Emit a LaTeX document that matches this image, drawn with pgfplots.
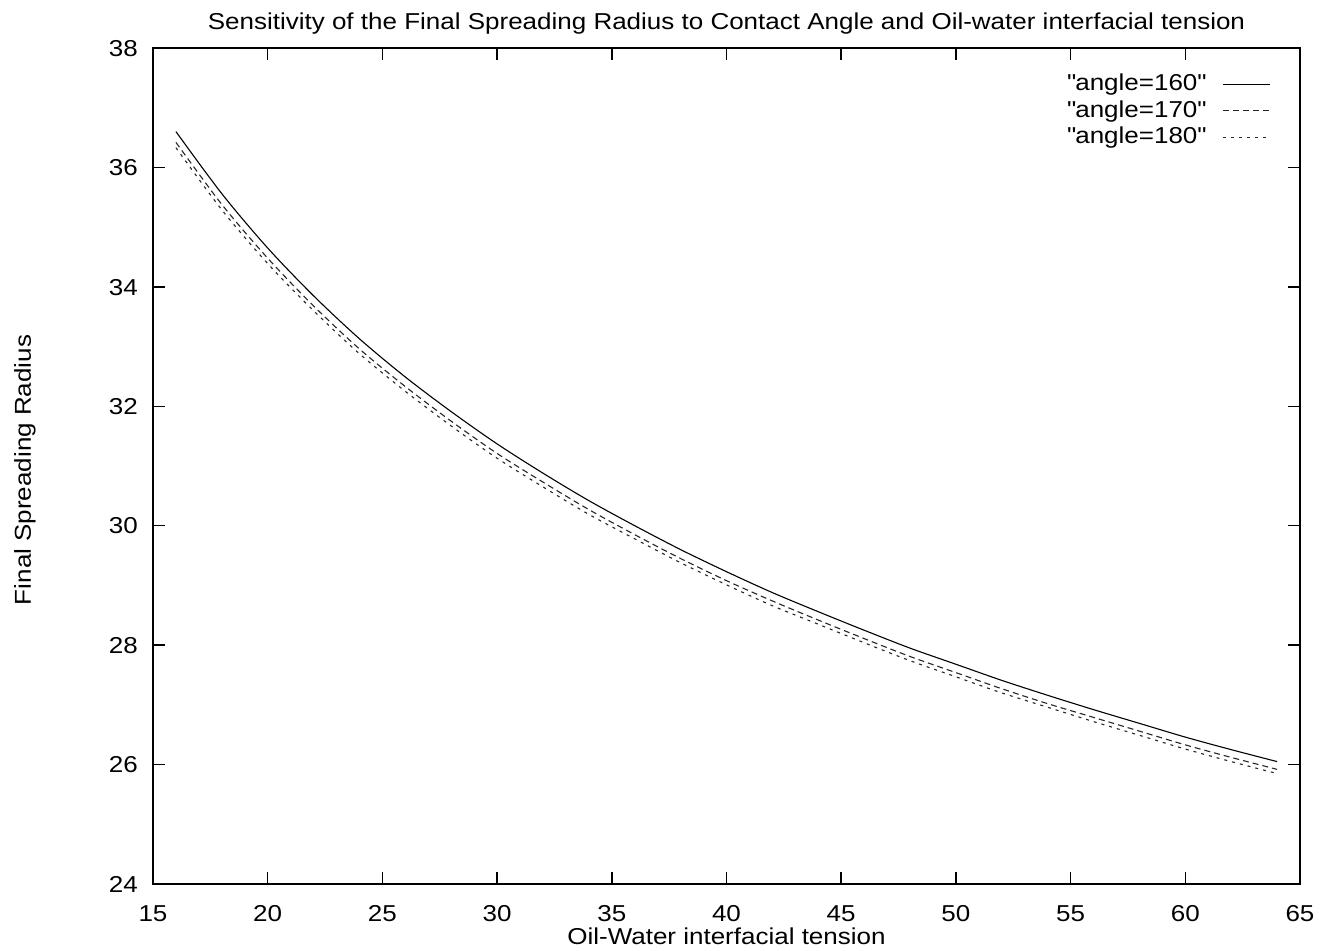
\documentclass[border=0pt]{standalone}
\usepackage{pgfplots}
\pgfplotsset{compat=1.18}
\usepackage{fontspec}
\setmainfont{Liberation Sans}[FakeStretch=1.13]

\begin{document}
\begin{tikzpicture}[font=\fontsize{23bp}{28bp}\selectfont]
\begin{axis}[
  scale only axis,
  width=1147bp, height=836bp,
  xmin=15, xmax=65, ymin=24, ymax=38,
  xtick={15,20,...,65}, ytick={24,26,...,38},
  tick align=inside,
  major tick length=12bp,
  axis line style={line width=1.8bp},
  every tick/.style={black, line width=1.5bp},
  /pgf/number format/assume math mode=true,
  xticklabel style={anchor=base, inner sep=0pt, yshift=-37.7bp},
  yticklabel style={anchor=east, inner sep=0pt, text height=16.5bp, text depth=0pt, xshift=-15bp},
  legend plot pos=right,
  legend cell align=right,
  legend style={draw=none, fill=none, at={(1,1)}, anchor=north east,
    xshift=-29.3bp, yshift=-26bp, inner sep=0pt, outer sep=0pt, row sep=10.2bp, column sep=17bp,
    nodes={inner sep=0pt, text height=16.5bp, text depth=0pt}},
  legend image code/.code={\path[draw=none, fill=none] (0bp,-8.25bp) rectangle (47bp,8.25bp); \draw[#1] (0bp,-2bp) -- (47bp,-2bp);},
]
\addplot[black, line width=1.1bp, smooth] coordinates {
(16,36.60) (18,35.56) (20,34.65) (22,33.85) (24,33.13) (26,32.49) (28,31.91)
(30,31.37) (32,30.88) (34,30.42) (36,30.00) (38,29.60) (40,29.23) (42,28.88)
(44,28.56) (46,28.25) (48,27.95) (50,27.68) (52,27.41) (54,27.16) (56,26.92)
(58,26.69) (60,26.46) (62,26.25) (64,26.05)};
\addlegendentry{\textquotedbl angle=160\textquotedbl}
\addplot[black!85, line width=1.1bp, smooth, dash pattern=on 6bp off 4bp] coordinates {
(16,36.42) (18,35.38) (20,34.48) (22,33.68) (24,32.96) (26,32.33) (28,31.75)
(30,31.21) (32,30.73) (34,30.27) (36,29.85) (38,29.45) (40,29.08) (42,28.74)
(44,28.42) (46,28.11) (48,27.81) (50,27.54) (52,27.27) (54,27.02) (56,26.79)
(58,26.56) (60,26.33) (62,26.12) (64,25.92)};
\addlegendentry{\textquotedbl angle=170\textquotedbl}
\addplot[black!85, line width=1.1bp, smooth, dash pattern=on 3bp off 5bp] coordinates {
(16,36.33) (18,35.29) (20,34.39) (22,33.60) (24,32.88) (26,32.25) (28,31.67)
(30,31.13) (32,30.65) (34,30.19) (36,29.78) (38,29.38) (40,29.01) (42,28.66)
(44,28.35) (46,28.04) (48,27.74) (50,27.47) (52,27.20) (54,26.96) (56,26.72)
(58,26.49) (60,26.26) (62,26.05) (64,25.85)};
\addlegendentry{\textquotedbl angle=180\textquotedbl}
\end{axis}
\node[anchor=base, inner sep=0pt] at ([yshift=18.5bp]current axis.north) {Sensitivity of the Final Spreading Radius to Contact Angle and Oil-water interfacial tension};
\node[anchor=base, inner sep=0pt] at ([yshift=-60bp]current axis.south) {Oil-Water interfacial tension};
\node[anchor=base, inner sep=0pt, rotate=90] at ([xshift=-122bp, yshift=-4bp]current axis.west) {Final Spreading Radius};
\pgfresetboundingbox
\path[use as bounding box] (current axis.south west) ++(-153bp,-67bp) rectangle ++(1322bp,951bp);
\end{tikzpicture}
\end{document}
